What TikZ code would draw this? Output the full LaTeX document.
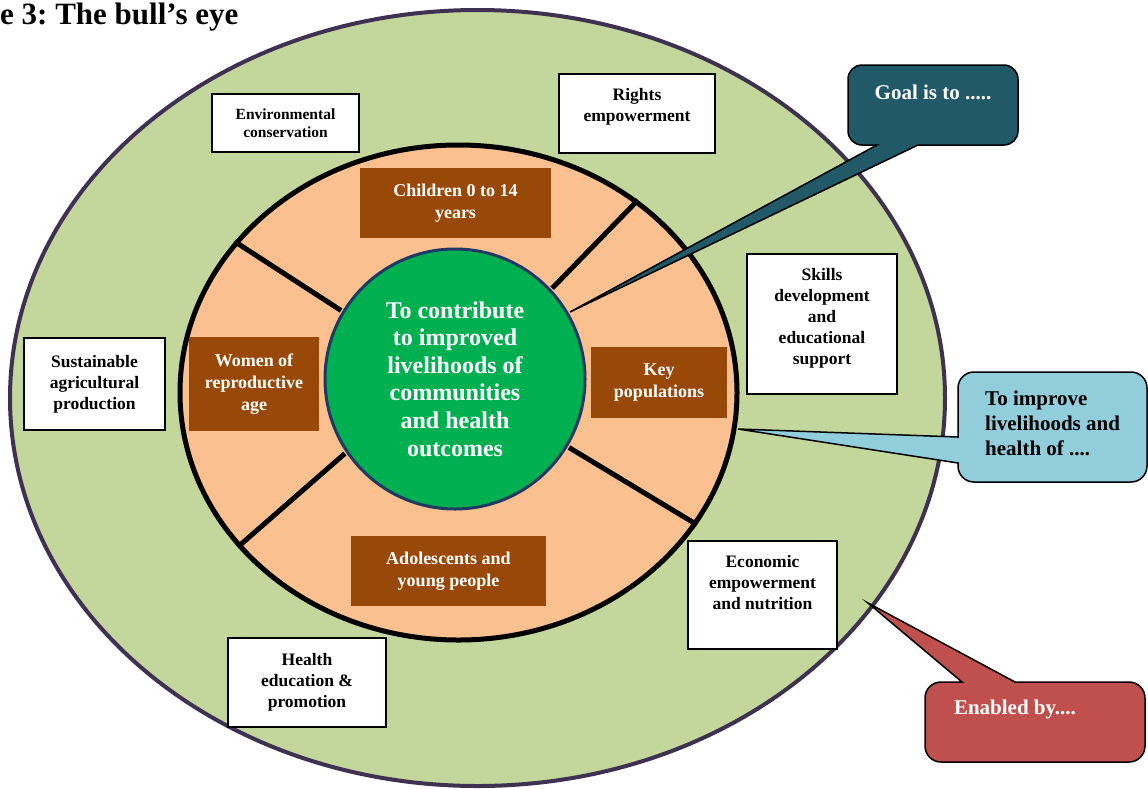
\documentclass[tikz,border=0pt]{standalone}
\usepackage{fontspec}
\setmainfont{Liberation Serif}
\usetikzlibrary{shapes.geometric}
\frenchspacing

\definecolor{outergreen}{HTML}{C3D69B}
\definecolor{outerline}{HTML}{3F3151}
\definecolor{ringorange}{HTML}{FAC090}
\definecolor{hubgreen}{HTML}{00B050}
\definecolor{hubline}{HTML}{1F3864}
\definecolor{boxbrown}{HTML}{984807}
\definecolor{goalteal}{HTML}{215968}
\definecolor{aimblue}{HTML}{92CDDC}
\definecolor{enablered}{HTML}{C0504D}

\begin{document}
\begin{tikzpicture}[
    x=1pt,
    y=-1pt,
    ring/.style={
        ellipse,
        inner sep=0pt,
    },
    brownbox/.style={
        fill=boxbrown,
        text=white,
        font=\bfseries\fontsize{18}{22}\selectfont,
        align=center,
        inner sep=0pt,
    },
    boxtext/.style={
        font=\bfseries\fontsize{17.5}{21}\selectfont,
        align=center,
        inner sep=0pt,
    },
    whitebox/.style={
        boxtext,
        draw,
        line width=2pt,
        fill=white,
    },
    spoke/.style={
        line width=5pt,
        shorten <=1.5pt,
    },
    callout/.style={
        draw,
        line width=1.5pt,
    },
    callouttext/.style={
        font=\bfseries\fontsize{21}{25}\selectfont,
        inner sep=0pt,
    },
]
\useasboundingbox (0,0) rectangle (1148,788);

\node[anchor=base west, inner sep=0pt, font=\bfseries\fontsize{31}{36}\selectfont] (title) at (0,24) {e 3: The bull’s eye};

% the three rings
\node[ring, draw=outerline, fill=outergreen, line width=4pt,
      minimum width=935pt, minimum height=776pt] (outer) at (477.5,398) {};
\node[ring, draw=black, fill=ringorange, line width=5pt,
      minimum width=557pt, minimum height=495pt] (mid) at (458.5,392.5) {};
\node[circle, draw=hubline, fill=hubgreen, line width=3pt, minimum size=260pt, inner sep=0pt,
      text=white, align=center, font=\bfseries\fontsize{24}{27.6}\selectfont] (hub) at (455,379)
      {To contribute\\to improved\\livelihoods of\\communities\\and health\\outcomes};

\draw[spoke] (hub.43)  -- (mid.47);
\draw[spoke] (hub.149) -- (mid.146);
\draw[spoke] (hub.214) -- (mid.215);
\draw[spoke] (hub.-31) -- (mid.-29);

% target groups
\node[brownbox, minimum width=191pt, minimum height=70pt] (children) at (455.5,203) {Children 0 to 14\\years};
\node[brownbox, minimum width=130pt, minimum height=94pt] (women) at (254,384) {Women of\\reproductive\\age};
\node[brownbox, minimum width=136pt, minimum height=71pt] (keypop) at (659,382.5) {Key\\populations};
\node[brownbox, minimum width=195pt, minimum height=70pt] (youth) at (448.5,571) {Adolescents and\\young people};

% enablers
\node[whitebox, font=\bfseries\fontsize{15.5}{18}\selectfont,
      minimum width=147pt, minimum height=58pt] (environ) at (285.5,123) {Environmental\\conservation};
\node[whitebox, minimum width=156pt, minimum height=79pt] (rights) at (637,113.5) {};
\node[boxtext] (rightstext) at (637,107) {Rights\\empowerment};
\node[whitebox, minimum width=150pt, minimum height=140pt] (skills) at (822,324) {};
\node[boxtext] (skillstext) at (822,318.5) {Skills\\development\\and\\educational\\support};
\node[whitebox, minimum width=141pt, minimum height=92pt] (farming) at (94.5,384) {Sustainable\\agricultural\\production};
\node[whitebox, minimum width=149pt, minimum height=108pt] (econ) at (762.5,595) {};
\node[boxtext] (econtext) at (762.5,583) {Economic\\empowerment\\and nutrition};
\node[whitebox, minimum width=158pt, minimum height=89pt] (health) at (307,682.5) {Health\\education \&\\promotion};

% callouts
\coordinate (goaltip) at (570,312);
\coordinate (aimtip) at (738,429);
\coordinate (enabletip) at (868,603);

\draw[callout, fill=goalteal] (877,145) -- (goaltip) -- (918,145) -- (1004,145)
    arc[start angle=90, end angle=0, radius=14] -- (1018,79)
    arc[start angle=0, end angle=-90, radius=14] -- (862,65)
    arc[start angle=-90, end angle=-180, radius=14] -- (848,131)
    arc[start angle=180, end angle=90, radius=14] -- cycle;
\node[callouttext, text=white] (goal) at (933,92) {Goal is to .....};

\draw[callout, fill=aimblue] (958,437) -- (aimtip) -- (958,463) -- (958,466)
    arc[start angle=180, end angle=90, radius=16] -- (1131,482)
    arc[start angle=90, end angle=0, radius=16] -- (1147,388)
    arc[start angle=0, end angle=-90, radius=16] -- (974,372)
    arc[start angle=-90, end angle=-180, radius=16] -- cycle;
\node[callouttext, align=left, anchor=west] (aim) at (985,423.5) {To improve\\livelihoods and\\health of ....};

\draw[callout, fill=enablered] (1015,682) -- (enabletip) -- (962,682) -- (941,682)
    arc[start angle=-90, end angle=-180, radius=16] -- (925,746)
    arc[start angle=180, end angle=90, radius=16] -- (1129,762)
    arc[start angle=90, end angle=0, radius=16] -- (1145,698)
    arc[start angle=0, end angle=-90, radius=16] -- cycle;
\node[callouttext, text=white] (enable) at (1015,709) {Enabled by....};

\end{tikzpicture}
\end{document}
